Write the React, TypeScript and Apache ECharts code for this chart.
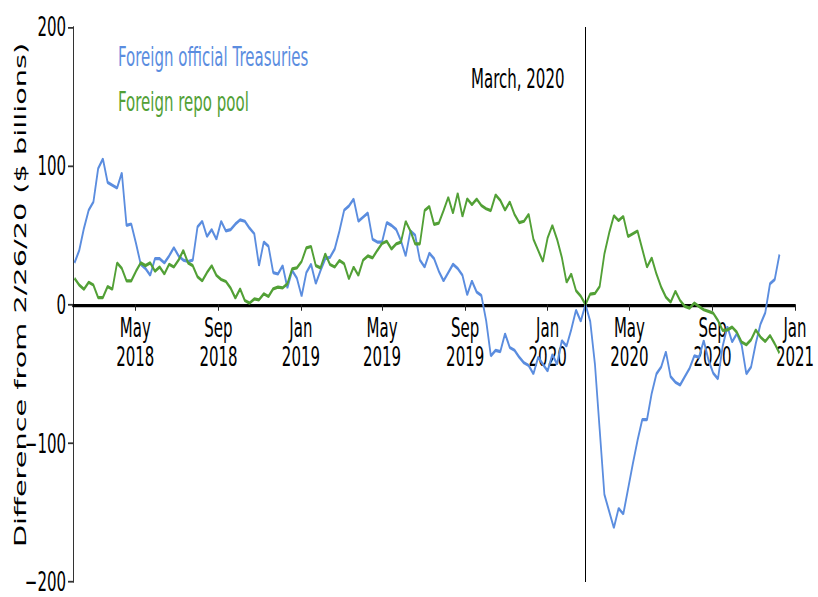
import React, { useEffect, useRef } from "react";
import * as echarts from "echarts";

// Weekly observations (Wednesdays), first week 2018-01-31, reference week 2020-02-26
const firstWeek = Date.UTC(2018, 0, 31);
const weekMs = 7 * 86400000;
const referenceDate = Date.UTC(2020, 1, 26);

const seriesNames = ["Foreign official Treasuries", "Foreign repo pool"];
const yAxisTitle = "Difference from 2/26/20 ($ billions)";

const foreignOfficialTreasuries = [
  30, 39, 55, 68, 74, 98, 105, 88, 86, 84, 95, 57, 58, 44, 29, 26, 21, 33, 33, 30,
  35, 41, 35, 32, 31, 32, 56, 60, 49, 54, 47, 60,
  53, 54, 58, 61, 60, 55, 51, 28, 45, 42, 23, 22, 28, 12, 24.5, 19, 6, 23,
  29, 15, 24.5, 33, 34, 40, 53, 68, 71, 76, 60, 63,
  66, 47, 45, 45, 59, 57, 54, 46, 35, 53, 50, 32, 27, 37, 33, 24, 17, 23,
  29, 26, 21, 7, 17, 9, 6.5, -11.5, -37, -33, -34,
  -21, -31, -33, -38, -42, -44, -50, -38, -43, -48, -36, -43, -26, -30, -18, -4, -12, 0,
  -12, -43, -90, -137, -149, -161, -147, -151, -133, -115, -98, -83, -83, -64, -50, -45,
  -34, -52, -56, -58, -52, -46, -37, -38, -26, -40, -49.5, -53.6, -30, -16, -27, -21,
  -29, -50, -45, -28, -14, -6, 15, 18, 36,
];

const foreignRepoPool = [
  19, 14, 11, 16, 14, 5, 5, 13, 11, 30, 26, 17, 17, 24, 30, 28, 30, 24, 27, 22,
  29, 27, 32, 39, 30, 28, 20, 17, 23, 28, 21, 18,
  16.6, 11.8, 4.6, 11.3, 2.9, 1, 4, 3.4, 7.7, 5.8, 11.3, 12.5, 12, 15, 25.7, 26.4, 31, 40.8,
  41.8, 28, 26.4, 36.5, 28.8, 27, 31.7, 29.3, 18.5, 27, 21, 32,
  35, 33.6, 39, 44, 45.6, 40, 43.7, 45, 60, 53, 43.7, 43.7, 67.7, 70.6, 57.7, 58.6, 67.7, 77.3,
  65.8, 80.2, 63.4, 76.2, 72, 76, 71.4, 69, 67.7, 79, 75,
  68, 74, 65, 59, 60, 65, 47, 39, 31, 48, 57, 47, 34, 16, 22, 10, 6, 0,
  7.5, 8, 13, 36.5, 51.5, 64, 60.5, 63.5, 49, 51, 53, 40, 27, 33.6, 22, 12.5, 5.3, 1.7,
  9.6, 2.9, -1.4, -2.6, 1, -1.4, -3.8, -5, -6.2, -11.5, -18.7, -18.3, -16.3, -20, -27, -29,
  -25.4, -18.3, -23.5, -26.7, -22.3, -28.3, -35,
];

const xTickDates = [
  Date.UTC(2018, 4, 1), Date.UTC(2018, 8, 1), Date.UTC(2019, 0, 1),
  Date.UTC(2019, 4, 1), Date.UTC(2019, 8, 1), Date.UTC(2020, 0, 1),
  Date.UTC(2020, 4, 1), Date.UTC(2020, 8, 1), Date.UTC(2021, 0, 1),
];
const monthNames = ["Jan", "Feb", "Mar", "Apr", "May", "Jun", "Jul", "Aug", "Sep", "Oct", "Nov", "Dec"];

const yMin = -200;
const yMax = 200;
const yInterval = 100;

const annotationText = "March, 2020";
const annotationValue = 163;

const COLORS = ["#5b8ddf", "#52a036"];
const FONT = "DejaVu Sans";
const WIDTH = 818;
const FULL_H = 597;
const BASE_H = 332;
const STRETCH = FULL_H / BASE_H;
const GRID_TOP = 27 / STRETCH;
const GRID_BOTTOM = (FULL_H - 582) / STRETCH;

const toPairs = (vals: number[]) => vals.map((v, i) => [firstWeek + i * weekMs, v]);

export default function App() {
  const ref = useRef<HTMLDivElement>(null);
  useEffect(() => {
    document.body.style.margin = "0";
    const chart = echarts.init(ref.current!, null, { renderer: "svg" });
    const dayMs = 86400000;
    const gridHeight = BASE_H - GRID_TOP - GRID_BOTTOM;
    // distance of the value 0 above the bottom edge of the plot, from the y scale
    const zeroOffset = (gridHeight * (0 - yMin)) / (yMax - yMin);
    const option: any = {
      animation: false,
      backgroundColor: "#ffffff",
      grid: {
        left: 73,
        right: 23,
        top: GRID_TOP,
        bottom: GRID_BOTTOM,
        containLabel: false,
        outerBoundsMode: "none",
      },
      graphic: [
        {
          type: "text",
          x: 20,
          y: 164,
          rotation: Math.PI / 2,
          silent: true,
          style: {
            text: yAxisTitle,
            fill: "#000",
            font: `16px "${FONT}"`,
            align: "center",
            verticalAlign: "middle",
          },
        },
      ],
      legend: {
        orient: "vertical",
        left: 107,
        top: 19,
        itemGap: 10,
        itemWidth: 0,
        itemHeight: 0,
        itemStyle: { opacity: 0 },
        lineStyle: { opacity: 0 },
        selectedMode: false,
        data: seriesNames.map((n, i) => ({
          name: n,
          textStyle: { color: COLORS[i], fontSize: 15, fontFamily: FONT },
        })),
      },
      xAxis: {
        type: "value",
        position: "bottom",
        offset: -zeroOffset,
        min: firstWeek - 2.22 * dayMs,
        max: Date.UTC(2021, 0, 1),
        splitLine: { show: false },
        axisLine: { onZero: false, lineStyle: { color: "#000", width: 1.8 } },
        axisTick: { show: true, length: 3.5, customValues: xTickDates, lineStyle: { color: "#222", width: 1 } },
        axisLabel: {
          customValues: xTickDates,
          margin: 5,
          fontSize: 15,
          lineHeight: 16,
          fontFamily: FONT,
          color: "#000",
          showMinLabel: true,
          showMaxLabel: true,
          formatter: (v: number) => {
            const d = new Date(v);
            return monthNames[d.getUTCMonth()] + "\n" + d.getUTCFullYear();
          },
        },
      },
      yAxis: {
        type: "value",
        min: yMin,
        max: yMax,
        interval: yInterval,
        splitLine: { show: false },
        axisLine: { show: true, onZero: false, lineStyle: { color: "#333", width: 1 } },
        axisTick: { show: true, length: 5, lineStyle: { color: "#333", width: 1 } },
        axisLabel: {
          margin: 7,
          fontSize: 15,
          fontFamily: FONT,
          color: "#000",
          formatter: (v: number) => (v < 0 ? "\u2212" + Math.abs(v) : String(v)),
        },
      },
      series: [
        {
          name: seriesNames[0],
          type: "line",
          data: toPairs(foreignOfficialTreasuries),
          showSymbol: false,
          symbol: "none",
          lineStyle: { color: COLORS[0], width: 1.8 },
          itemStyle: { color: COLORS[0] },
          silent: true,
          markLine: {
            silent: true,
            symbol: ["none", "none"],
            label: { show: false },
            lineStyle: { color: "#000", width: 1, type: "solid" },
            data: [{ xAxis: referenceDate }],
          },
          markPoint: {
            silent: true,
            data: [
              {
                coord: [referenceDate, annotationValue],
                symbol: "circle",
                symbolSize: 0,
                itemStyle: { color: "transparent" },
                label: {
                  show: true,
                  position: "left",
                  distance: 21,
                  formatter: annotationText,
                  color: "#000",
                  fontSize: 15,
                  fontFamily: FONT,
                },
              },
            ],
          },
        },
        {
          name: seriesNames[1],
          type: "line",
          data: toPairs(foreignRepoPool),
          showSymbol: false,
          symbol: "none",
          lineStyle: { color: COLORS[1], width: 1.8 },
          itemStyle: { color: COLORS[1] },
          silent: true,
        },
      ],
    };
    chart.setOption(option);
    return () => chart.dispose();
  }, []);
  return (
    <div
      ref={ref}
      style={{
        position: "fixed",
        left: 0,
        top: 0,
        width: WIDTH,
        height: BASE_H,
        transform: `scaleY(${STRETCH})`,
        transformOrigin: "0 0",
      }}
    />
  );
}
